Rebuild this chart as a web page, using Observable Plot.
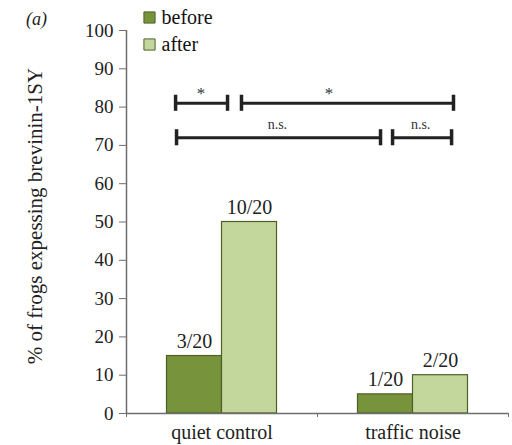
<!DOCTYPE html>
<html>
<head>
<meta charset="utf-8">
<script src="https://cdn.jsdelivr.net/npm/d3@7"></script>
<script src="https://cdn.jsdelivr.net/npm/@observablehq/plot@0.6"></script>
<style>
  html, body { margin: 0; padding: 0; background: #fff; }
  svg text { font-family: "Liberation Serif", "DejaVu Serif", "Liberation Sans", serif !important; }
</style>
</head>
<body>
<div id="chart"></div>
<script>
// ---- data ----
const categories = ["quiet control", "traffic noise"];
const series = ["before", "after"];
const beforeValues = [15, 5];
const afterValues = [50, 10];
const beforeLabels = ["3/20", "1/20"];
const afterLabels = ["10/20", "2/20"];
const yTicks = [0, 10, 20, 30, 40, 50, 60, 70, 80, 90, 100];
const yLabel = "% of frogs expessing brevinin-1SY";
const panelLabel = "(a)";
// significance comparisons (x in category units: 1 = quiet control, 2 = traffic noise)
const bracketFrom = [0.757, 1.102, 0.762, 1.893];
const bracketTo = [1.029, 2.212, 1.830, 2.202];
const bracketLevel = [81, 81, 72, 72];
const bracketText = ["*", "*", "n.s.", "n.s."];
const bracketTextAt = [0.89, 1.56, 1.29, 2.04];

// ---- styling ----
const colors = {before: "#77933c", after: "#c3d69b"};
const fs = 20;
const barW = 0.288;

const bars = [];
categories.forEach((c, i) => {
  bars.push({cat: c, s: "before", v: beforeValues[i], label: beforeLabels[i], x1: i + 1 - barW, x2: i + 1});
  bars.push({cat: c, s: "after", v: afterValues[i], label: afterLabels[i], x1: i + 1, x2: i + 1 + barW});
});
const brackets = bracketFrom.map((f, i) => ({x1: f, x2: bracketTo[i], y: bracketLevel[i], text: bracketText[i], tx: bracketTextAt[i]}));
const caps = brackets.flatMap(b => [{x: b.x1, y: b.y}, {x: b.x2, y: b.y}]);
const xDomain = [0.5, categories.length + 0.5];
const boundaries = d3.range(categories.length + 1).map(i => i + 0.5);

const legendMarks = series.flatMap((s, i) => [
  Plot.dot([s], {frameAnchor: "top-left", dx: 23, dy: -13 + i * 27, symbol: "square", r: 6.3,
    fill: colors[s], stroke: "#4f6228", strokeWidth: 1}),
  Plot.text([s], {frameAnchor: "top-left", dx: 35, dy: -13 + i * 27, textAnchor: "start",
    lineAnchor: "middle", fontSize: fs, fill: "#111"})
]);

const chart = Plot.plot({
  width: 512,
  height: 445,
  marginLeft: 126,
  marginRight: 4,
  marginTop: 30,
  marginBottom: 32,
  style: {fontSize: fs + "px", background: "#fff"},
  x: {domain: xDomain, axis: null},
  y: {domain: [0, 100], axis: null},
  marks: [
    Plot.axisY({ticks: yTicks, tickSize: 7, tickPadding: 6, fontSize: fs - 1,
      stroke: "#6e6e6e", color: "#222", label: null}),
    Plot.ruleX([xDomain[0]], {y1: 0, y2: 100, stroke: "#6e6e6e", strokeWidth: 1.5}),
    Plot.axisX({ticks: boundaries, tickSize: 4, tickFormat: () => "", stroke: "#6e6e6e", label: null}),
    Plot.axisX({ticks: categories.map((c, i) => i + 1), tickSize: 0, tickPadding: 11,
      tickFormat: d => categories[d - 1], fontSize: fs, color: "#222", label: null}),
    Plot.rectY(bars, {x1: "x1", x2: "x2", y: "v", fill: d => colors[d.s], stroke: "#4f5f2a", strokeWidth: 1.2}),
    Plot.ruleY([0], {stroke: "#6e6e6e", strokeWidth: 1.5}),
    Plot.text(bars, {x: d => (d.x1 + d.x2) / 2, y: "v", text: "label", lineAnchor: "bottom", dy: -8,
      fontSize: fs, fill: "#222"}),
    Plot.ruleY(brackets, {x1: "x1", x2: "x2", y: "y", stroke: "#222", strokeWidth: 3}),
    Plot.ruleX(caps, {x: "x", y1: d => d.y - 2.1, y2: d => d.y + 2.1, stroke: "#222", strokeWidth: 3.5}),
    Plot.text(brackets.filter(b => b.text === "*"), {x: "tx", y: "y", text: "text", lineAnchor: "bottom",
      dy: -4, fontSize: 17, fill: "#333"}),
    Plot.text(brackets.filter(b => b.text !== "*"), {x: "tx", y: "y", text: "text", lineAnchor: "bottom",
      dy: -9, fontSize: 14, fill: "#333"}),
    Plot.text([yLabel], {frameAnchor: "left", textAnchor: "middle", lineAnchor: "middle", rotate: -90,
      dx: -91, dy: -6, fontSize: 21, fill: "#222"}),
    Plot.text([panelLabel], {frameAnchor: "top-left", dx: -90, dy: -11, fontSize: 18, fontStyle: "italic",
      fill: "#222", textAnchor: "middle", lineAnchor: "middle"}),
    ...legendMarks
  ]
});
document.getElementById("chart").appendChild(chart);
</script>
</body>
</html>
